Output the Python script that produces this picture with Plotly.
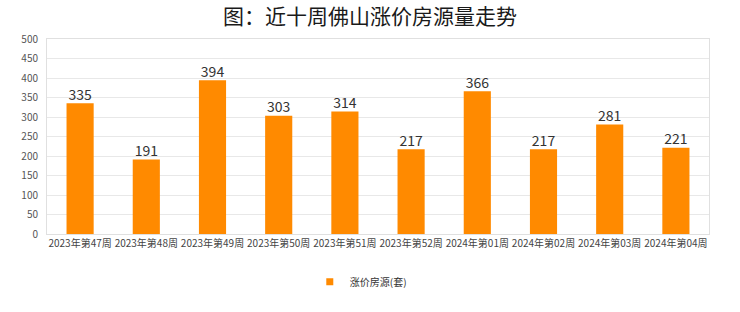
import plotly.graph_objects as go

weeks = ["2023年第47周", "2023年第48周", "2023年第49周", "2023年第50周", "2023年第51周",
         "2023年第52周", "2024年第01周", "2024年第02周", "2024年第03周", "2024年第04周"]
values = [335, 191, 394, 303, 314, 217, 366, 217, 281, 221]
y_ticks = [0, 50, 100, 150, 200, 250, 300, 350, 400, 450, 500]
series_name = "涨价房源(套)"
bar_color = "#FF8A00"

fig = go.Figure()
fig.add_trace(go.Bar(
    x=weeks, y=values, name=series_name, showlegend=False,
    marker=dict(color=bar_color, line=dict(width=0)),
))
# value labels just above the bars
fig.add_trace(go.Scatter(
    x=weeks, y=values, mode="text", text=[str(v) for v in values],
    textposition="top center", showlegend=False, hoverinfo="skip",
    textfont=dict(size=14, color="#333333", family="Noto Sans CJK SC"),
    cliponaxis=False,
))
# legend entry with a small square marker
fig.add_trace(go.Scatter(
    x=[None], y=[None], mode="markers", name=series_name,
    marker=dict(symbol="square", size=7, color=bar_color),
))

fig.update_layout(
    width=740, height=312,
    margin=dict(l=47, r=31, t=39, b=78),
    paper_bgcolor="white", plot_bgcolor="white",
    title=dict(text="图：近十周佛山涨价房源量走势", x=0.5, xanchor="center", y=0.948, yanchor="middle",
               font=dict(size=21, color="#1a1a1a", family="Noto Sans CJK SC")),
    bargap=0.59,
    showlegend=True,
    legend=dict(orientation="h", x=0.474, xanchor="center", y=-0.245, yanchor="middle",
                font=dict(size=10, color="#333333", family="Noto Sans CJK SC"),
                itemwidth=30),
    font=dict(family="Noto Sans CJK SC"),
)
fig.update_yaxes(range=[0, 500], tickvals=y_ticks, showgrid=True, gridcolor="#E8E8E8",
                 tickfont=dict(size=10, color="#555555"), ticks="", ticklabelstandoff=6,
                 showline=True, linecolor="#E0E0E0", mirror=True, zeroline=False)
fig.update_xaxes(tickfont=dict(size=10, color="#444444"), showline=True, linecolor="#E0E0E0",
                 mirror=True, ticks="", tickangle=0)

fig.write_html("out.html")
